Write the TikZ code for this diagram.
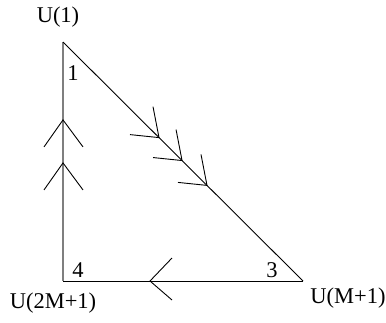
\documentclass[tikz,border=0pt]{standalone}
\usepackage{fontspec}
\setmainfont{Liberation Serif}
\usetikzlibrary{calc}
\definecolor{kante}{HTML}{000000}
\definecolor{kgrau}{HTML}{7F7F7F}
\tikzset{
  seite/.style={kante,line width=0.9pt},
  seiteg/.style={kgrau,line width=1.3pt},
  pfeil/.style={kante,line width=0.9pt},
  lab/.style={font=\fontsize{22.5}{26}\selectfont,inner sep=0pt},
}

\begin{document}
\begin{tikzpicture}[x=1pt,y=-1pt]
  \useasboundingbox (0,0) rectangle (386,322);
  \coordinate (A) at (63,42);
  \coordinate (C) at (303,281);
  \coordinate (D) at (63,281);
  \draw[seiteg] (D)--(A);
  \draw[seite] (A)--(C);
  \draw[seite] (C)--(D);
  \coordinate (l1) at ($(D)!0.674!(A)$);
  \coordinate (l2) at ($(D)!0.494!(A)$);
  \draw[pfeil] ($(l1)+(-19,27)$)--(l1)--($(l1)+(20,27)$);
  \draw[pfeil] ($(l2)+(-19,27)$)--(l2)--($(l2)+(20,27)$);
  \coordinate (d1) at ($(A)!0.40!(C)$);
  \coordinate (d2) at ($(A)!0.496!(C)$);
  \coordinate (d3) at ($(A)!0.60!(C)$);
  \foreach \t in {d1,d2,d3}
    \draw[pfeil] ($(\t)+(-6,-31)$)--(\t)--($(\t)+(-29,-3)$);
  \coordinate (b1) at (150,281);
  \draw[pfeil] ($(b1)+(22,-23)$)--(b1)--($(b1)+(22,19)$);
  \node[lab] (uA) at (58,17) {U(1)};
  \node[lab] (nA) at (73,73) {1};
  \node[lab] (nD) at (78,270) {4};
  \node[lab] (nC) at (272,270) {3};
  \node[lab] (uD) at (53,303) {U(2M+1)};
  \node[lab] (uC) at (348,298) {U(M+1)};
\end{tikzpicture}
\end{document}
